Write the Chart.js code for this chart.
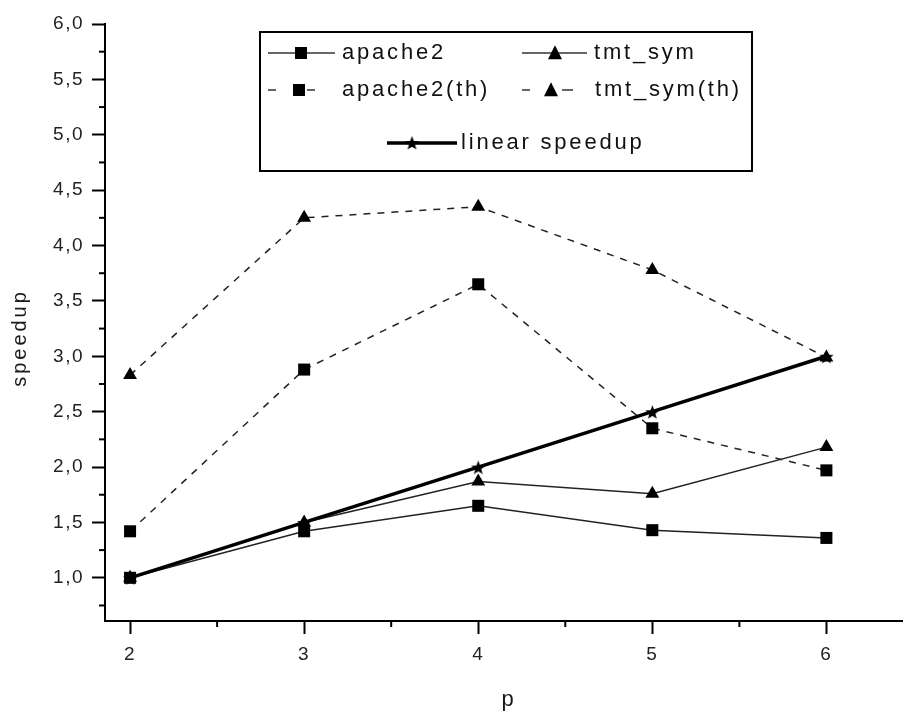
<!DOCTYPE html>
<html lang="en">
<head>
<meta charset="UTF-8">
<title>speedup vs p</title>
<script src="https://cdn.jsdelivr.net/npm/chart.js"></script>
<style>
  html, body { margin: 0; padding: 0; background: #fff; }
  #wrap { width: 903px; height: 713px; }
</style>
</head>
<body>
<div id="wrap"><canvas id="speedChart" width="903" height="713"></canvas></div>
<script>
// data
var procs = [2, 3, 4, 5, 6];
var apache2 = [1.00, 1.42, 1.65, 1.43, 1.36];
var apache2Th = [1.42, 2.88, 3.65, 2.35, 1.97];
var tmtSym = [1.00, 1.50, 1.87, 1.76, 2.18];
var tmtSymTh = [2.83, 4.25, 4.35, 3.78, 2.99];
var linearSpeedup = [1.0, 1.5, 2.0, 2.5, 3.0];

var yTicks = [1.0, 1.5, 2.0, 2.5, 3.0, 3.5, 4.0, 4.5, 5.0, 5.5, 6.0];
var yMinorTicks = [0.75, 1.25, 1.75, 2.25, 2.75, 3.25, 3.75, 4.25, 4.75, 5.25, 5.75];
var xTicks = [2, 3, 4, 5, 6];
var xMinorTicks = [2.5, 3.5, 4.5, 5.5];

var FONT = '"Liberation Sans", Arial, sans-serif';

function pts(ys) {
    return procs.map(function (p, i) { return { x: p, y: ys[i] }; });
}

// filled five point star for the linear speedup markers
function makeStar(size) {
    var c = document.createElement('canvas');
    c.width = size; c.height = size;
    var g = c.getContext('2d');
    var cx = size / 2, cy = size / 2 + 1, R = size / 2, r = R * 0.42;
    g.beginPath();
    for (var i = 0; i < 10; i++) {
        var rad = (i % 2 === 0) ? R : r;
        var a = -Math.PI / 2 + i * Math.PI / 5;
        g.lineTo(cx + rad * Math.cos(a), cy + rad * Math.sin(a));
    }
    g.closePath();
    g.fillStyle = '#000';
    g.fill();
    return c;
}
var starImg = makeStar(15);

function drawSquare(ctx, x, y, s) {
    ctx.fillRect(x - s / 2, y - s / 2, s, s);
}
function drawTriangle(ctx, x, y, s) {
    ctx.beginPath();
    ctx.moveTo(x, y - s * 0.55);
    ctx.lineTo(x + s / 2, y + s * 0.45);
    ctx.lineTo(x - s / 2, y + s * 0.45);
    ctx.closePath();
    ctx.fill();
}
function seg(ctx, x1, x2, y, w) {
    ctx.lineWidth = w;
    ctx.beginPath();
    ctx.moveTo(x1, y);
    ctx.lineTo(x2, y);
    ctx.stroke();
}

// the original text is rendered quite wide, so space the letters out a bit
var spacingPlugin = {
    id: 'spacing',
    beforeInit: function (chart) { chart.ctx.letterSpacing = '1.5px'; },
    beforeDraw: function (chart) { chart.ctx.letterSpacing = '1.5px'; }
};

// minor ticks, axis titles and the boxed legend
var decorPlugin = {
    id: 'decor',
    afterDraw: function (chart) {
        var ctx = chart.ctx;
        var xs = chart.scales.x, ys = chart.scales.y;
        ctx.save();
        ctx.strokeStyle = '#000';
        ctx.fillStyle = '#000';
        ctx.lineWidth = 2;
        yMinorTicks.forEach(function (v) {
            var py = ys.getPixelForValue(v);
            seg(ctx, ys.right - 6, ys.right, py, 2);
        });
        xMinorTicks.forEach(function (v) {
            var px = xs.getPixelForValue(v);
            ctx.beginPath();
            ctx.moveTo(px, xs.top);
            ctx.lineTo(px, xs.top + 6);
            ctx.stroke();
        });

        // axis titles
        ctx.fillStyle = '#1a1a1a';
        ctx.font = '22px ' + FONT;
        ctx.letterSpacing = '1px';
        ctx.textAlign = 'center';
        ctx.textBaseline = 'alphabetic';
        ctx.fillText('p', 508, 706);
        ctx.save();
        ctx.translate(26, 338);
        ctx.rotate(-Math.PI / 2);
        ctx.font = '20px ' + FONT;
        ctx.letterSpacing = '3px';
        ctx.fillText('speedup', 0, 0);
        ctx.restore();

        // legend box
        ctx.fillStyle = '#fff';
        ctx.fillRect(260, 32, 492, 139);
        ctx.strokeStyle = '#000';
        ctx.lineWidth = 2;
        ctx.strokeRect(260, 32, 492, 139);

        ctx.fillStyle = '#000';
        ctx.strokeStyle = '#333';
        // row 1
        seg(ctx, 268, 335, 53, 1.5);
        drawSquare(ctx, 301, 53, 12);
        seg(ctx, 522, 587, 53, 1.5);
        drawTriangle(ctx, 555, 53, 14);
        // row 2
        seg(ctx, 268, 276, 90, 1.5);
        drawSquare(ctx, 299, 90, 12);
        seg(ctx, 307, 315, 90, 1.5);
        seg(ctx, 522, 530, 90, 1.5);
        drawTriangle(ctx, 551, 90, 14);
        seg(ctx, 562, 573, 90, 1.5);
        // row 3
        ctx.strokeStyle = '#000';
        seg(ctx, 387, 457, 143, 3.5);
        ctx.drawImage(starImg, 412 - 7.5, 143 - 8);

        ctx.fillStyle = '#111';
        ctx.font = '22px ' + FONT;
        ctx.letterSpacing = '2.8px';
        ctx.textAlign = 'left';
        ctx.textBaseline = 'middle';
        ctx.fillText('apache2', 342, 53);
        ctx.fillText('tmt_sym', 594, 53);
        ctx.fillText('apache2(th)', 342, 90);
        ctx.fillText('tmt_sym(th)', 595, 90);
        ctx.fillText('linear speedup', 461, 143);
        ctx.restore();
    }
};

var ctx = document.getElementById('speedChart').getContext('2d');
var speedChart = new Chart(ctx, {
    type: 'line',
    data: {
        datasets: [
            {
                label: 'linear speedup',
                data: pts(linearSpeedup),
                borderColor: '#000',
                borderWidth: 3.5,
                pointStyle: starImg,
                order: 0
            },
            {
                label: 'apache2',
                data: pts(apache2),
                borderColor: '#222',
                borderWidth: 1.5,
                pointStyle: 'rect',
                pointRadius: 8.5,
                pointBackgroundColor: '#000',
                pointBorderWidth: 0,
                order: 1
            },
            {
                label: 'tmt_sym',
                data: pts(tmtSym),
                borderColor: '#222',
                borderWidth: 1.5,
                pointStyle: 'triangle',
                pointRadius: 8,
                pointBackgroundColor: '#000',
                pointBorderWidth: 0,
                order: 2
            },
            {
                label: 'apache2(th)',
                data: pts(apache2Th),
                borderColor: '#222',
                borderWidth: 1.5,
                borderDash: [7, 7],
                pointStyle: 'rect',
                pointRadius: 8.5,
                pointBackgroundColor: '#000',
                pointBorderWidth: 0,
                order: 3
            },
            {
                label: 'tmt_sym(th)',
                data: pts(tmtSymTh),
                borderColor: '#222',
                borderWidth: 1.5,
                borderDash: [7, 7],
                pointStyle: 'triangle',
                pointRadius: 8,
                pointBackgroundColor: '#000',
                pointBorderWidth: 0,
                order: 4
            }
        ]
    },
    options: {
        responsive: false,
        animation: false,
        events: [],
        layout: { autoPadding: false, padding: { top: 24, right: 0, bottom: 0, left: 0 } },
        elements: { line: { tension: 0, fill: false } },
        plugins: {
            legend: { display: false },
            tooltip: { enabled: false }
        },
        scales: {
            x: {
                type: 'linear',
                min: 1.856,
                max: 6.44,
                afterBuildTicks: function (scale) {
                    scale.ticks = xTicks.map(function (v) { return { value: v }; });
                },
                afterFit: function (scale) {
                    scale.height = 92;
                    scale.paddingLeft = 0;
                    scale.paddingRight = 0;
                },
                border: { display: true, color: '#000', width: 2 },
                grid: { drawOnChartArea: false, drawTicks: true, tickLength: 13, tickWidth: 2, tickColor: '#000' },
                ticks: {
                    color: '#222',
                    padding: 9,
                    maxRotation: 0,
                    font: { family: FONT, size: 19 },
                    callback: function (v) { return String(v); }
                }
            },
            y: {
                type: 'linear',
                min: 0.61,
                max: 6.0,
                afterBuildTicks: function (scale) {
                    scale.ticks = yTicks.map(function (v) { return { value: v }; });
                },
                afterFit: function (scale) { scale.width = 105; },
                border: { display: true, color: '#000', width: 2 },
                grid: { drawOnChartArea: false, drawTicks: true, tickLength: 13, tickWidth: 2, tickColor: '#000' },
                ticks: {
                    color: '#222',
                    padding: 8,
                    font: { family: FONT, size: 19 },
                    callback: function (v) { return v.toFixed(1).replace('.', ','); }
                }
            }
        }
    },
    plugins: [spacingPlugin, decorPlugin]
});
</script>
</body>
</html>
